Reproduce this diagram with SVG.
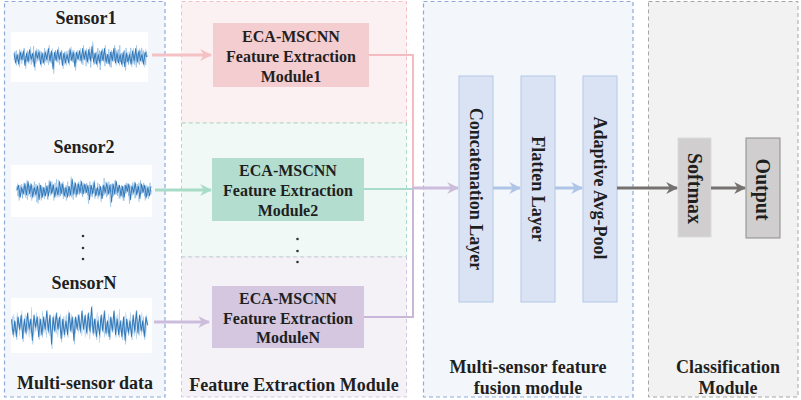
<svg xmlns="http://www.w3.org/2000/svg" xmlns:xlink="http://www.w3.org/1999/xlink" width="801" height="400" viewBox="0 0 801 400">
<style>
  text { font-family: "Liberation Serif", "Times New Roman", serif; font-weight: bold; fill: #1f1f1f; }
  .title { font-size: 18px; text-anchor: middle; }
  .lbl { font-size: 16px; text-anchor: middle; }
  .vt { font-size: 18px; text-anchor: middle; dominant-baseline: central; }
  .vt2 { font-size: 20px; text-anchor: middle; dominant-baseline: central; }
  .wave { fill: none; stroke: #2e75b6; stroke-width: 0.9; vector-effect: non-scaling-stroke; stroke-linejoin: round; }
  .wave2 { fill: none; stroke: #9dc3e6; stroke-width: 0.8; vector-effect: non-scaling-stroke; opacity: 0.9; }
  .wave3 { fill: none; stroke: #5b9bd5; stroke-width: 0.6; vector-effect: non-scaling-stroke; opacity: 0.8; }
  .conn { fill: none; }
</style>
<defs>
  <path id="w" d="M0,-3 L1.6,5 3.2,-2 4.8,6 6.4,-4 8,2 9.6,-5 11.2,7 12.8,-3 14.4,4 16,-6 17.6,2 19.2,-3 20.8,8 22.4,-5 24,1 25.6,-4 27.2,6 28.8,-3 30.4,5 32,-4 33.6,2 35.2,-7 36.8,3 38.4,-5 40,10 41.6,-4 43.2,3 44.8,-6 46.4,2 48,-4 49.6,7 51.2,-3 52.8,5 54.4,-2 56,5 57.6,-6 59.2,3 60.8,-4 62.4,8 64,-4 65.6,2 67.2,-5 68.8,3 70.4,-7 72,2 73.6,-5 75.2,4 76.8,-6 78.4,3 80,-9 81.6,4 83.2,-3 84.8,6 86.4,-2 88,5 89.6,-5 91.2,3 92.8,-7 94.4,4 96,-2 97.6,6 99.2,-4 100.8,3 102.4,-7 104,5 105.6,-3 107.2,5 108.8,-2 110.4,6 112,-4 113.6,8 115.2,-3 116.8,4 118.4,-2 120,6 121.6,-5 123.2,3 124.8,-7 126.4,4 128,-5 129.6,3 131.2,-2 132.8,6 134.4,-4 136,0"/>
  <marker id="aPink" viewBox="0 0 10 10" refX="9" refY="5" markerWidth="4" markerHeight="4" orient="auto" markerUnits="strokeWidth"><path d="M0,0 L10,5 L0,10 L3,5 Z" fill="#f4c2c4"/></marker>
  <marker id="aGreen" viewBox="0 0 10 10" refX="9" refY="5" markerWidth="4" markerHeight="4" orient="auto" markerUnits="strokeWidth"><path d="M0,0 L10,5 L0,10 L3,5 Z" fill="#a9dcc8"/></marker>
  <marker id="aPurple" viewBox="0 0 10 10" refX="9" refY="5" markerWidth="4" markerHeight="4" orient="auto" markerUnits="strokeWidth"><path d="M0,0 L10,5 L0,10 L3,5 Z" fill="#cdbddd"/></marker>
  <marker id="aBlue" viewBox="0 0 10 10" refX="9" refY="5" markerWidth="4" markerHeight="4" orient="auto" markerUnits="strokeWidth"><path d="M0,0 L10,5 L0,10 L3,5 Z" fill="#aec5e8"/></marker>
  <marker id="aGray" viewBox="0 0 10 10" refX="9" refY="5" markerWidth="4" markerHeight="4" orient="auto" markerUnits="strokeWidth"><path d="M0,0 L10,5 L0,10 L3,5 Z" fill="#767171"/></marker>
</defs>
<rect width="801" height="400" fill="#ffffff"/>

<!-- Panels -->
<g id="panel-multi-sensor">
  <rect x="4.5" y="1.5" width="160.5" height="395.5" fill="#f3f7fb" stroke="#8eaadb" stroke-width="1.2" stroke-dasharray="4,3"/>
  <text class="title" x="85" y="389">Multi-sensor data</text>
</g>
<g id="panel-fe">
  <rect x="181.5" y="1.5" width="225" height="121.5" fill="#fbf1f2" stroke="#f4c0c4" stroke-width="1" stroke-dasharray="4,3"/>
  <rect x="181.5" y="123" width="225" height="134" fill="#f0f9f5" stroke="#a9dcc8" stroke-width="1" stroke-dasharray="4,3"/>
  <rect x="181.5" y="257" width="225" height="140" fill="#f5f2f7" stroke="#d3c6e0" stroke-width="1" stroke-dasharray="4,3"/>
  <text class="title" x="294" y="391">Feature Extraction Module</text>
</g>
<g id="panel-fusion">
  <rect x="423.5" y="1.5" width="209.5" height="395.5" fill="#f3f7fb" stroke="#8eaadb" stroke-width="1.2" stroke-dasharray="4,3"/>
  <text class="title" x="528" y="373">Multi-sensor feature</text>
  <text class="title" x="528" y="394">fusion module</text>
</g>
<g id="panel-class">
  <rect x="648.5" y="1.5" width="149.5" height="395.5" fill="#f2f2f2" stroke="#a6a6a6" stroke-width="1" stroke-dasharray="4,3"/>
  <text class="title" x="728" y="373">Classification</text>
  <text class="title" x="728" y="394">Module</text>
</g>

<!-- Sensors -->
<g id="sensor1">
  <text class="title" x="86" y="24">Sensor1</text>
  <rect x="11" y="32" width="137" height="50" fill="#ffffff"/>
  <use xlink:href="#w" class="wave2" transform="translate(14.8,57) scale(0.975,1.7)"/>
  <use xlink:href="#w" class="wave3" transform="translate(14,57) scale(0.49,-1.1)"/>
  <use xlink:href="#w" class="wave3" transform="translate(80.6,57) scale(0.49,1.3)"/>
  <use xlink:href="#w" class="wave" transform="translate(14,57) scale(0.975,1.2)"/>
</g>
<g id="sensor2">
  <text class="title" x="84" y="153">Sensor2</text>
  <rect x="11" y="165" width="141" height="52" fill="#ffffff"/>
  <use xlink:href="#w" class="wave2" transform="translate(150,191) scale(-0.985,1.6)"/>
  <use xlink:href="#w" class="wave3" transform="translate(17,190) scale(0.495,1.2)"/>
  <use xlink:href="#w" class="wave3" transform="translate(84.3,190) scale(0.495,-1.2)"/>
  <use xlink:href="#w" class="wave" transform="translate(151,190) scale(-0.985,1.2)"/>
</g>
<g id="sensor-dots" fill="#333333">
  <circle cx="83" cy="236" r="1.3"/>
  <circle cx="83" cy="248" r="1.3"/>
  <circle cx="83" cy="259" r="1.3"/>
</g>
<g id="sensorN">
  <text class="title" x="84" y="289">SensorN</text>
  <rect x="11" y="298" width="141" height="55" fill="#ffffff"/>
  <use xlink:href="#w" class="wave2" transform="translate(12,326) scale(1,2.3)"/>
  <use xlink:href="#w" class="wave3" transform="translate(11.5,325) scale(0.5,-1.8)"/>
  <use xlink:href="#w" class="wave3" transform="translate(79.5,325) scale(0.5,1.8)"/>
  <use xlink:href="#w" class="wave" transform="translate(11.5,325) scale(1,1.9)"/>
</g>

<!-- Feature extraction modules -->
<g id="module1">
  <rect x="213" y="23" width="156" height="64" fill="#f4cdd0"/>
  <text class="lbl" x="291" y="41.5">ECA-MSCNN</text>
  <text class="lbl" x="291" y="61.5">Feature Extraction</text>
  <text class="lbl" x="291" y="81.5">Module1</text>
</g>
<g id="module2">
  <rect x="212" y="158" width="152" height="63" fill="#b3ddcf"/>
  <text class="lbl" x="288" y="175.5">ECA-MSCNN</text>
  <text class="lbl" x="288" y="195.5">Feature Extraction</text>
  <text class="lbl" x="288" y="215.5">Module2</text>
</g>
<g id="fe-dots" fill="#333333">
  <circle cx="297.5" cy="239" r="1.3"/>
  <circle cx="297.5" cy="251" r="1.3"/>
  <circle cx="297.5" cy="262" r="1.3"/>
</g>
<g id="moduleN">
  <rect x="212" y="286" width="152" height="62" fill="#d4c7df"/>
  <text class="lbl" x="288" y="303.5">ECA-MSCNN</text>
  <text class="lbl" x="288" y="323.5">Feature Extraction</text>
  <text class="lbl" x="288" y="343">ModuleN</text>
</g>

<!-- Fusion layers -->
<g id="concat">
  <rect x="459" y="76" width="34" height="226" fill="#dae3f3" stroke="#b4c7e7" stroke-width="1"/>
  <text class="vt" transform="translate(476,189) rotate(90)">Concatenation Layer</text>
</g>
<g id="flatten">
  <rect x="521" y="76" width="34" height="226" fill="#dae3f3" stroke="#b4c7e7" stroke-width="1"/>
  <text class="vt" transform="translate(538,189) rotate(90)">Flatten Layer</text>
</g>
<g id="avgpool">
  <rect x="583" y="76" width="34" height="226" fill="#dae3f3" stroke="#b4c7e7" stroke-width="1"/>
  <text class="vt" transform="translate(600,188) rotate(90)">Adaptive Avg-Pool</text>
</g>

<!-- Classification -->
<g id="softmax">
  <rect x="678" y="138" width="33" height="99" fill="#d0cece" stroke="#dcdcdc" stroke-width="1"/>
  <text class="vt2" transform="translate(694.5,188.5) rotate(90)">Softmax</text>
</g>
<g id="output">
  <rect x="746" y="138" width="34" height="100" fill="#d0cece" stroke="#8c8c8c" stroke-width="1"/>
  <text class="vt2" transform="translate(763,189.5) rotate(90)">Output</text>
</g>

<!-- Connectors -->
<g id="connectors" class="conn">
  <line x1="152" y1="55" x2="211" y2="55" stroke="#f4c2c4" stroke-width="3" marker-end="url(#aPink)"/>
  <line x1="155" y1="190" x2="211" y2="190" stroke="#a9dcc8" stroke-width="3" marker-end="url(#aGreen)"/>
  <line x1="154" y1="322" x2="209" y2="322" stroke="#cdbddd" stroke-width="3" marker-end="url(#aPurple)"/>

  <polyline points="369,55 413,55 413,188" stroke="#f4bcc0" stroke-width="2" fill="none"/>
  <polyline points="364,317 413,317 413,188" stroke="#c9b7d9" stroke-width="2" fill="none"/>
  <line x1="364" y1="189" x2="413" y2="189" stroke="#a9dcc8" stroke-width="2"/>
  <line x1="412" y1="188" x2="458" y2="188" stroke="#cdbddd" stroke-width="3" marker-end="url(#aPurple)"/>

  <line x1="493" y1="188" x2="520" y2="188" stroke="#aec5e8" stroke-width="3" marker-end="url(#aBlue)"/>
  <line x1="555" y1="188" x2="582" y2="188" stroke="#aec5e8" stroke-width="3" marker-end="url(#aBlue)"/>
  <line x1="617" y1="188" x2="677" y2="188" stroke="#767171" stroke-width="3" marker-end="url(#aGray)"/>
  <line x1="711" y1="188" x2="745" y2="188" stroke="#767171" stroke-width="3" marker-end="url(#aGray)"/>
</g>
</svg>
